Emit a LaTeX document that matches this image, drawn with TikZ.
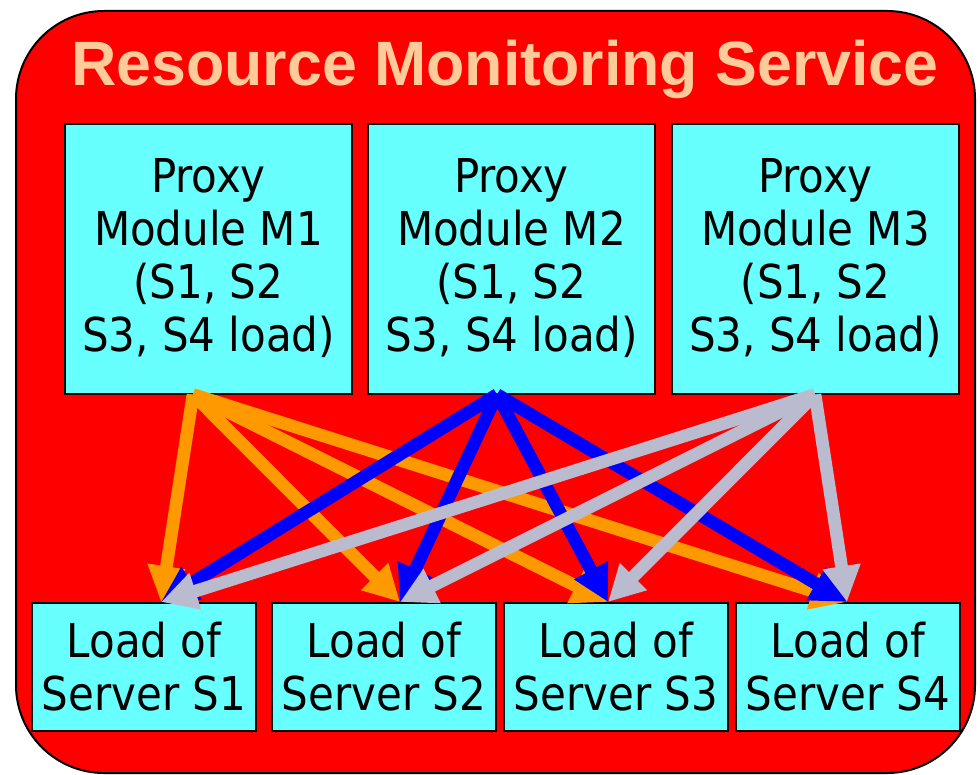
\documentclass[tikz,border=0pt]{standalone}
\usepackage{fontspec}
\setmainfont{DejaVu Sans Condensed}
\newfontfamily\titlefont{Liberation Sans}
\usetikzlibrary{arrows.meta,calc}

\definecolor{svcred}{RGB}{255,0,0}
\definecolor{boxcyan}{RGB}{104,255,255}
\definecolor{titlepeach}{RGB}{255,204,153}
\definecolor{arrorange}{RGB}{255,153,0}
\definecolor{arrblue}{RGB}{0,0,255}
\definecolor{arrgrey}{RGB}{187,187,208}

\tikzset{
  proxybox/.style={draw=black, line width=1.5pt, fill=boxcyan, inner sep=0pt,
    minimum width=215.25pt, minimum height=202.5pt, align=center,
    font=\fontsize{35}{39.75}\selectfont},
  loadbox/.style={draw=black, line width=1.5pt, fill=boxcyan, inner sep=0pt,
    minimum width=168pt, minimum height=96pt, align=center,
    font=\fontsize{35}{39.75}\selectfont},
  feed/.style={line width=9.5pt, -{Triangle[length=27pt,width=27pt]}},
  feedM1/.style={feed, draw=arrorange, fill=arrorange},
  feedM2/.style={feed, draw=arrblue, fill=arrblue},
  feedM3/.style={feed, draw=arrgrey, fill=arrgrey},
}

\begin{document}
\begin{tikzpicture}[x=0.75pt, y=-0.75pt]
\useasboundingbox (0,0) rectangle (980,774);

% service frame
\draw[fill=svcred, line width=1.5pt, rounded corners=66pt] (16,11) rectangle (975,773);
\node[anchor=base, text=titlepeach, inner sep=0pt,
      font=\titlefont\bfseries\fontsize{47}{50}\selectfont] (title) at (505,85)
      {Resource Monitoring Service};

% proxy modules
\node[proxybox] (M1) at (208.5,258.5) {Proxy\\Module M1\\(S1, S2\\S3, S4 load)};
\node[proxybox] (M2) at (511.5,258.5) {Proxy\\Module M2\\(S1, S2\\S3, S4 load)};
\node[proxybox] (M3) at (815.5,258.5) {Proxy\\Module M3\\(S1, S2\\S3, S4 load)};

% server load records
\node[loadbox] (S1) at (144,667) {Load of\\Server S1};
\node[loadbox] (S2) at (384,667) {Load of\\Server S2};
\node[loadbox] (S3) at (616,667) {Load of\\Server S3};
\node[loadbox] (S4) at (848,667) {Load of\\Server S4};

% arrow origins and targets
\coordinate (o1) at ($(M1.south)+(-15.5,0)$);
\coordinate (o2) at ($(M2.south)+(-14.5,0)$);
\coordinate (o3) at ($(M3.south)+(-0.5,0)$);
\coordinate (t1) at ($(S1.north)+(17,0)$);
\coordinate (t2) at ($(S2.north)+(16,0)$);
\coordinate (t3) at ($(S3.north)+(-8,0)$);
\coordinate (t4) at ($(S4.north)+(-1,0)$);

\foreach \t in {t1,t2,t3,t4} \draw[feedM1] (o1) -- (\t);
\foreach \t in {t1,t2,t3,t4} \draw[feedM2] (o2) -- (\t);
\foreach \t in {t1,t2,t3,t4} \draw[feedM3] (o3) -- (\t);
\end{tikzpicture}
\end{document}
